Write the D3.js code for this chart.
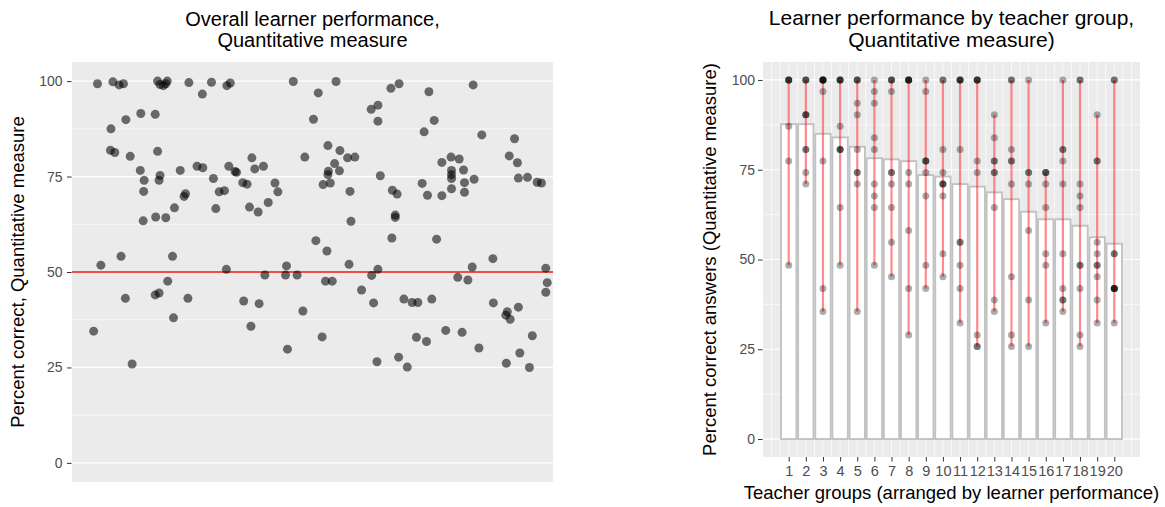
<!DOCTYPE html>
<html>
<head>
<meta charset="utf-8">
<script src="https://d3js.org/d3.v7.min.js"></script>
<style>
body { margin: 0; background: #fff; }
svg text { font-family: "Liberation Sans", Arial, Helvetica, sans-serif; }
</style>
</head>
<body>
<svg width="1165" height="507"></svg>
<script>
// ---- left panel: each learner, spread sideways (jitter units 0..100)
const learnerJitter = [5.3, 8.5, 9.8, 10.7, 17.8, 18.3, 19.0, 19.5, 19.8, 24.3, 27.1, 29.0, 32.2, 32.9, 46.0, 51.2,
  14.3, 17.3, 11.2, 8.1, 50.2, 8.0, 8.9, 12.1, 17.8, 48.4, 14.2, 15.0, 14.9, 18.3, 18.1, 22.5, 26.0, 27.2, 29.4,
  32.6, 33.9, 34.2, 37.4, 38.0, 39.8, 35.5, 36.4, 42.2, 42.8, 23.3, 23.6, 30.6, 31.7, 29.9, 36.9, 38.7, 40.8, 21.3,
  14.8, 17.4, 19.5, 50.7, 6.0, 10.2, 20.9, 32.1, 40.1, 44.4, 46.8, 44.6, 19.9, 11.1, 17.3, 18.1, 24.1, 21.1, 4.5,
  12.5, 35.7, 38.9, 37.2, 44.8, 48.0, 52.0, 53.0, 57.6, 66.5, 75.8, 52.7, 54.1, 60.2, 62.3, 63.6, 62.7, 69.0, 70.7,
  71.9, 74.8, 80.2, 82.3, 83.2, 87.5, 98.5, 98.8, 98.5, 87.6, 90.5, 90.2, 91.1, 92.8, 63.4, 67.9, 69.7, 71.6, 73.7,
  77.7, 81.1, 84.6, 90.3, 93.1, 95.1, 95.7, 54.9, 66.3, 68.0, 74.2, 83.4, 62.2, 63.6, 63.6, 73.2, 75.3, 85.2, 92.0,
  53.2, 55.7, 54.6, 57.3, 58.8, 55.6, 53.3, 53.2, 52.2, 53.7, 57.8, 64.1, 66.6, 67.6, 58.0, 67.2, 67.2, 72.8, 73.9,
  76.9, 76.9, 78.8, 80.5, 78.9, 78.9, 78.9, 81.4, 81.6, 83.6, 78.9, 81.6, 90.9, 92.6, 92.8, 94.7, 96.7, 97.6];
const learnerScore = [99.3, 99.8, 99.0, 99.3, 100, 99.1, 98.8, 99.3, 100, 99.6, 96.6, 99.7, 98.8, 99.5, 99.9, 96.9,
  91.5, 91.3, 89.9, 87.5, 90.0, 81.9, 81.3, 80.3, 81.6, 80.1, 76.6, 74.0, 71.1, 75.3, 74.0, 76.6, 77.7, 77.3, 74.5,
  77.7, 76.3, 76.1, 79.9, 77.0, 77.7, 73.4, 73.0, 73.3, 71.0, 69.8, 70.5, 71.0, 71.3, 66.6, 67.0, 65.7, 68.2, 66.8,
  63.4, 64.4, 64.2, 58.2, 51.8, 54.1, 54.1, 50.7, 49.2, 49.2, 49.2, 51.6, 47.6, 43.1, 44.0, 44.5, 43.1, 38.0, 34.5,
  25.9, 42.4, 41.7, 35.8, 29.8, 39.8, 33.0, 55.5, 52.0, 58.9, 58.6, 47.6, 47.6, 45.3, 49.1, 50.7, 41.9, 42.9, 42.0,
  42.0, 42.9, 48.6, 47.9, 51.3, 53.5, 51.0, 47.2, 44.7, 41.9, 39.6, 38.7, 37.6, 40.8, 26.5, 27.7, 25.1, 32.9, 31.8,
  34.7, 34.2, 30.1, 26.1, 28.8, 25.0, 33.3, 99.9, 98.1, 99.3, 97.2, 99.0, 92.6, 93.7, 89.5, 86.7, 89.7, 85.9, 84.9,
  83.1, 81.8, 78.4, 79.9, 80.1, 76.5, 76.4, 75.5, 72.9, 73.3, 71.1, 75.2, 71.4, 70.4, 63.3, 64.9, 64.3, 73.2, 70.1,
  70.0, 78.7, 80.1, 79.6, 76.6, 75.5, 74.5, 76.7, 73.4, 74.3, 71.8, 70.9, 80.4, 78.6, 74.6, 74.8, 73.5, 73.3];
const passMark = 50;
const scoreTicks = [0, 25, 50, 75, 100];
const scoreMinorTicks = [12.5, 37.5, 62.5, 87.5];

// ---- right panel: teacher groups
const teacherGroups = [1, 2, 3, 4, 5, 6, 7, 8, 9, 10, 11, 12, 13, 14, 15, 16, 17, 18, 19, 20];
const groupMeans = [87.7, 87.7, 85.0, 84.0, 81.4, 78.2, 77.9, 77.4, 73.5, 73.1, 71.0, 70.3, 68.7, 66.8, 63.3, 61.2, 61.2, 59.4, 56.2, 54.4];
const groupScores = [
  [100, 100, 100, 100, 87.1, 77.4, 48.4],
  [100, 100, 100, 90.3, 90.3, 90.3, 80.6, 80.6, 74.2, 71.0],
  [100, 100, 100, 100, 100, 100, 96.8, 77.4, 41.9, 35.5],
  [100, 100, 100, 100, 87.1, 80.6, 80.6, 80.6, 64.5, 48.4],
  [100, 100, 100, 93.5, 90.3, 80.6, 74.2, 74.2, 71.0, 35.5],
  [100, 96.8, 93.5, 83.9, 80.6, 71.0, 67.7, 64.5, 48.4],
  [100, 100, 100, 96.8, 74.2, 74.2, 71.0, 64.5, 54.8, 45.2],
  [100, 100, 100, 100, 100, 74.2, 71.0, 58.1, 41.9, 29.0],
  [100, 96.8, 77.4, 77.4, 77.4, 74.2, 67.7, 48.4, 41.9],
  [100, 100, 80.6, 74.2, 71.0, 71.0, 71.0, 67.7, 51.6, 45.2],
  [100, 100, 100, 100, 80.6, 54.8, 54.8, 48.4, 41.9, 32.3],
  [100, 100, 100, 100, 77.4, 74.2, 29.0, 25.8, 25.8],
  [90.3, 83.9, 77.4, 77.4, 74.2, 74.2, 64.5, 38.7, 35.5],
  [100, 100, 80.6, 77.4, 77.4, 71.0, 45.2, 29.0, 25.8],
  [100, 74.2, 74.2, 71.0, 58.1, 38.7, 25.8],
  [74.2, 74.2, 74.2, 71.0, 64.5, 51.6, 48.4, 32.3],
  [100, 80.6, 80.6, 77.4, 71.0, 51.6, 41.9, 38.7, 38.7, 35.5],
  [100, 100, 71.0, 67.7, 64.5, 48.4, 48.4, 41.9, 29.0, 25.8],
  [90.3, 77.4, 77.4, 54.8, 51.6, 48.4, 48.4, 45.2, 38.7, 32.3],
  [100, 100, 51.6, 51.6, 41.9, 41.9, 41.9, 41.9, 41.9, 32.3]
];

const svg = d3.select("svg");
const tickGrey = "#4d4d4d";

function drawPanel(x, y, minorY) {
  const [x0, x1] = x.range();
  const [y1, y0] = y.range();
  svg.append("rect").attr("x", x0).attr("y", y0).attr("width", x1 - x0).attr("height", y1 - y0).attr("fill", "#ebebeb");
  svg.append("g").selectAll("line").data(minorY).join("line")
    .attr("x1", x0).attr("x2", x1).attr("y1", d => y(d)).attr("y2", d => y(d))
    .attr("stroke", "#fff").attr("stroke-width", 0.6);
  svg.append("g").selectAll("line").data(scoreTicks).join("line")
    .attr("x1", x0).attr("x2", x1).attr("y1", d => y(d)).attr("y2", d => y(d))
    .attr("stroke", "#fff").attr("stroke-width", 1.2);
}

function styleAxis(g, size) {
  g.select(".domain").remove();
  g.selectAll(".tick line").attr("stroke", "#333").attr("stroke-width", 1);
  g.selectAll(".tick text").attr("fill", tickGrey).style("font-size", size + "px");
}

// ================= left panel
const xL = d3.scaleLinear().domain([0, 100]).range([72, 553]);
const yL = d3.scaleLinear().domain([-5, 105]).range([482, 62]);
drawPanel(xL, yL, scoreMinorTicks);

svg.append("line")
  .attr("x1", 72).attr("x2", 553).attr("y1", yL(passMark)).attr("y2", yL(passMark))
  .attr("stroke", "#ee3b33").attr("stroke-opacity", 0.9).attr("stroke-width", 2.2);

svg.append("g").selectAll("circle").data(learnerScore).join("circle")
  .attr("cx", (d, i) => xL(learnerJitter[i]))
  .attr("cy", d => yL(d))
  .attr("r", 4.5)
  .attr("fill", "#000").attr("fill-opacity", 0.56);

svg.append("g").attr("transform", "translate(71.5,0)")
  .call(d3.axisLeft(yL).tickValues(scoreTicks).tickSize(4.5).tickPadding(4.5))
  .call(g => styleAxis(g, 14));

svg.append("text").attr("x", 312.5).attr("y", 25.5).attr("text-anchor", "middle")
  .style("font-size", "20px").text("Overall learner performance,");
svg.append("text").attr("x", 312.5).attr("y", 46.5).attr("text-anchor", "middle")
  .style("font-size", "20px").text("Quantitative measure");
svg.append("text").attr("transform", "translate(24,272) rotate(-90)").attr("text-anchor", "middle")
  .style("font-size", "18.5px").text("Percent correct, Quantitative measure");

// ================= right panel
const xR = d3.scaleLinear().domain([-0.5, 21.5]).range([763, 1140]);
const yR = d3.scaleLinear().domain([-5, 105]).range([457, 62]);
drawPanel(xR, yR, scoreMinorTicks);

svg.append("g").selectAll("line").data(d3.range(0, 21.01, 0.5)).join("line")
  .attr("x1", d => xR(d)).attr("x2", d => xR(d)).attr("y1", 62).attr("y2", 457)
  .attr("stroke", "#fff").attr("stroke-width", 0.7);

const barW = xR(0.45) - xR(-0.45);
svg.append("g").selectAll("rect").data(groupMeans).join("rect")
  .attr("x", (d, i) => xR(teacherGroups[i]) - barW / 2)
  .attr("y", d => yR(d))
  .attr("width", barW)
  .attr("height", d => yR(0) - yR(d))
  .attr("fill", "#fff").attr("stroke", "#c2c2c2").attr("stroke-width", 1.9);

svg.append("g").selectAll("line").data(groupScores).join("line")
  .attr("x1", (d, i) => xR(teacherGroups[i])).attr("x2", (d, i) => xR(teacherGroups[i]))
  .attr("y1", d => yR(d3.max(d))).attr("y2", d => yR(d3.min(d)))
  .attr("stroke", "#ff1a1a").attr("stroke-opacity", 0.5).attr("stroke-width", 2.2);

const dots = groupScores.flatMap((s, i) => s.map(v => ({ g: teacherGroups[i], v })));
svg.append("g").selectAll("circle").data(dots).join("circle")
  .attr("cx", d => xR(d.g)).attr("cy", d => yR(d.v)).attr("r", 3.5)
  .attr("fill", "#000").attr("fill-opacity", 0.32);

svg.append("g").attr("transform", "translate(762.5,0)")
  .call(d3.axisLeft(yR).tickValues(scoreTicks).tickSize(4.5).tickPadding(3))
  .call(g => styleAxis(g, 14));

svg.append("g").attr("transform", "translate(0,457)")
  .call(d3.axisBottom(xR).tickValues(teacherGroups).tickFormat(d3.format("d")).tickSize(4.5).tickPadding(4.5))
  .call(g => styleAxis(g, 14.5));

svg.append("text").attr("x", 951.5).attr("y", 25).attr("text-anchor", "middle")
  .style("font-size", "21px").text("Learner performance by teacher group,");
svg.append("text").attr("x", 951.5).attr("y", 47).attr("text-anchor", "middle")
  .style("font-size", "21px").text("Quantitative measure)");
svg.append("text").attr("transform", "translate(716,259.5) rotate(-90)").attr("text-anchor", "middle")
  .style("font-size", "18.5px").text("Percent correct answers (Quantitative measure)");
svg.append("text").attr("x", 951.5).attr("y", 499).attr("text-anchor", "middle")
  .style("font-size", "18.5px").text("Teacher groups (arranged by learner performance)");
</script>
</body>
</html>
